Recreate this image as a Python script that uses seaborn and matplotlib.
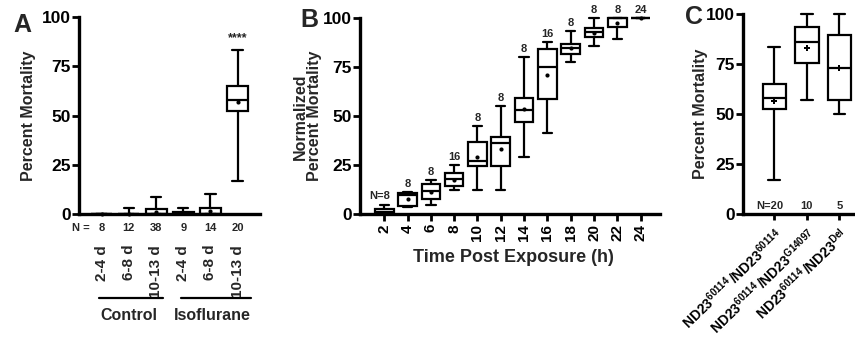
import numpy as np
import pandas as pd
import seaborn as sns
import matplotlib.pyplot as plt

# ---------------- data ----------------
# Panel A
a_groups = ['Control', 'Control', 'Control', 'Isoflurane', 'Isoflurane', 'Isoflurane']
a_ages = ['2-4 d', '6-8 d', '10-13 d', '2-4 d', '6-8 d', '10-13 d']
a_n = [8, 12, 38, 9, 14, 20]
a_min = [0, 0, 0, 0, 0, 17.0]
a_q1 = [0, 0, 0, 0, 0, 52.5]
a_med = [0, 0, 0, 0, 0, 58.0]
a_q3 = [0, 0.4, 2.5, 1.0, 3.2, 65.0]
a_max = [0, 3.3, 8.8, 3.4, 10.5, 83.3]
a_mean = [0, 0.3, 1.0, 0.5, 1.6, 56.8]

# Panel B
b_hours = ['2', '4', '6', '8', '10', '12', '14', '16', '18', '20', '22', '24']
b_n = [8, 8, 8, 16, 8, 8, 8, 16, 8, 8, 8, 24]
b_min = [0, 3.5, 4.6, 12.4, 12.5, 12.5, 29.4, 41.3, 77.9, 85.9, 89.5, 100]
b_q1 = [0, 4.2, 8.0, 14.5, 24.8, 24.5, 47.1, 59.0, 81.6, 90.3, 95.4, 100]
b_med = [1.2, 10.0, 12.0, 18.0, 27.2, 36.2, 53.1, 75.0, 85.0, 93.0, 100, 100]
b_q3 = [2.6, 10.7, 15.5, 20.9, 37.0, 39.6, 59.5, 84.2, 87.1, 94.9, 100, 100]
b_max = [5.0, 11.2, 17.5, 25.2, 45.0, 55.1, 80.1, 87.8, 93.5, 100, 100, 100]
b_mean = [0.8, 7.6, 11.3, 17.5, 29.4, 33.5, 53.7, 71.1, 84.7, 92.5, 97.8, 100]

# Panel C
c_labels = [r'$\mathbf{ND23^{60114}\,/ND23^{60114}}$',
            r'$\mathbf{ND23^{60114}\,/ND23^{G14097}}$',
            r'$\mathbf{ND23^{60114}\,/ND23^{Del}}$']
c_n = [20, 10, 5]
c_min = [17.0, 57.0, 50.3]
c_q1 = [52.5, 75.5, 57.0]
c_med = [58.0, 85.8, 73.0]
c_q3 = [65.0, 93.6, 89.7]
c_max = [83.3, 100, 100]
c_mean = [56.8, 83.2, 73.0]


def five_point(keys, mins, q1s, meds, q3s, maxs):
    rows = []
    for k, a, b, c, d, e in zip(keys, mins, q1s, meds, q3s, maxs):
        for v in (a, b, c, d, e):
            rows.append({'cat': k, 'value': v})
    return pd.DataFrame(rows)


# ---------------- style ----------------
sns.set_theme(style='ticks')
plt.rcParams['font.family'] = ['Liberation Sans', 'DejaVu Sans']
plt.rcParams['font.weight'] = 'bold'
plt.rcParams['axes.labelweight'] = 'bold'
plt.rcParams['mathtext.fontset'] = 'custom'
plt.rcParams['mathtext.rm'] = 'Liberation Sans'
plt.rcParams['mathtext.bf'] = 'Liberation Sans:bold'
plt.rcParams['mathtext.it'] = 'Liberation Sans:italic'

W, H = 855, 346
fig = plt.figure(figsize=(W / 100, H / 100), dpi=100)


def px_axes(x0, x1, ytop, ybot):
    return fig.add_axes([x0 / W, 1 - ybot / H, (x1 - x0) / W, (ybot - ytop) / H])


axA = px_axes(79, 260, 16.7, 214.3)
axB = px_axes(360, 660, 18.3, 214.3)
axC = px_axes(743, 855, 14.0, 214.3)

box_kw = dict(whis=(0, 100), color='white', linecolor='black', linewidth=1.6,
              fliersize=0)


def style_axis(ax):
    sns.despine(ax=ax)
    for s in ('left', 'bottom'):
        ax.spines[s].set_linewidth(2.4)
        ax.spines[s].set_color('black')
    ax.set_ylim(0, 100)
    ax.set_yticks([0, 25, 50, 75, 100])
    ax.tick_params(axis='y', length=5, width=2, labelsize=12.5, pad=1, colors='black')
    for lab in ax.get_yticklabels():
        lab.set_fontweight('bold')
    for art in ax.lines + ax.patches + ax.collections:
        art.set_clip_on(False)


# ---------------- Panel A ----------------
a_keys = [f'{g} {a}' for g, a in zip(a_groups, a_ages)]
dfA = five_point(a_keys, a_min, a_q1, a_med, a_q3, a_max)
sns.boxplot(data=dfA, x='cat', y='value', order=a_keys, width=0.77, ax=axA, **box_kw)
sns.stripplot(x=a_keys, y=a_mean, order=a_keys, jitter=False, color='black',
              size=3, ax=axA, zorder=5)
axA.set_xlim(-0.83, 5.82)
style_axis(axA)
axA.set_xticks(range(len(a_keys)))
axA.set_xticklabels(a_ages, rotation=90, fontsize=11, fontweight='bold')
axA.tick_params(axis='x', length=0, pad=22)
axA.set_xlabel('')
axA.set_ylabel('Percent Mortality', fontsize=11.5, fontweight='bold')
axA.yaxis.set_label_coords(-0.235, 0.5)
axA.text(-0.76, -6.8, 'N =', ha='center', va='center', fontsize=8, fontweight='bold')
for i, n in enumerate(a_n):
    axA.text(i, -6.8, str(n), ha='center', va='center', fontsize=8, fontweight='bold')
axA.text(5, 86, '****', ha='center', va='bottom', fontsize=9, fontweight='bold')
for (x0, x1), name in (((-0.1, 2.25), 'Control'), ((2.9, 5.5), 'Isoflurane')):
    axA.plot([x0, x1], [-42.2, -42.2], color='black', lw=1.6, clip_on=False)
axA.text(1.0, -51, 'Control', ha='center', va='center', fontsize=11.5, fontweight='bold')
axA.text(4.05, -51, 'Isoflurane', ha='center', va='center', fontsize=11.5, fontweight='bold')

# ---------------- Panel B ----------------
dfB = five_point(b_hours, b_min, b_q1, b_med, b_q3, b_max)
sns.boxplot(data=dfB, x='cat', y='value', order=b_hours, width=0.8, ax=axB, **box_kw)
sns.stripplot(x=b_hours, y=b_mean, order=b_hours, jitter=False, color='black',
              size=3, ax=axB, zorder=5)
axB.set_xlim(-1.04, 11.83)
style_axis(axB)
axB.set_xticks(range(len(b_hours)))
axB.set_xticklabels(b_hours, rotation=90, fontsize=11, fontweight='bold')
axB.tick_params(axis='x', length=5, width=2, pad=2, colors='black')
axB.set_xlabel('Time Post Exposure (h)', fontsize=13, fontweight='bold')
axB.xaxis.set_label_coords(0.51, -0.175)
axB.set_ylabel('Normalized\nPercent Mortality', fontsize=11.5, fontweight='bold',
               linespacing=1.0)
axB.yaxis.set_label_coords(-0.125, 0.5)
for i, (n, top) in enumerate(zip(b_n, b_max)):
    if i == 0:
        axB.text(i + 0.25, top + 4.2, f'N={n}', ha='right', va='center', fontsize=8,
                 fontweight='bold')
    else:
        axB.text(i, top + 4.2, str(n), ha='center', va='center', fontsize=8,
                 fontweight='bold')

# ---------------- Panel C ----------------
c_keys = ['a', 'b', 'c']
dfC = five_point(c_keys, c_min, c_q1, c_med, c_q3, c_max)
sns.boxplot(data=dfC, x='cat', y='value', order=c_keys, width=0.72, ax=axC, **box_kw)
sns.stripplot(x=c_keys, y=c_mean, order=c_keys, jitter=False, color='black',
              marker='P', size=4, ax=axC, zorder=5)
axC.set_xlim(-0.96, 2.48)
style_axis(axC)
axC.set_xticks(range(3))
axC.set_xticklabels(c_labels, rotation=44, ha='right', rotation_mode='anchor',
                    fontsize=10)
axC.tick_params(axis='x', length=4, width=2, pad=4, colors='black')
axC.set_xlabel('')
axC.set_ylabel('Percent Mortality', fontsize=11.5, fontweight='bold')
axC.yaxis.set_label_coords(-0.31, 0.5)
for i, n in enumerate(c_n):
    if i == 0:
        axC.text(i + 0.27, 1.5, f'N={n}', ha='right', va='bottom', fontsize=8,
                 fontweight='bold')
    else:
        axC.text(i, 1.5, str(n), ha='center', va='bottom', fontsize=8,
                 fontweight='bold')

# panel letters
fig.text(13 / W, 1 - 13 / H, 'A', ha='left', va='top', fontsize=18, fontweight='bold')
fig.text(300 / W, 1 - 8 / H, 'B', ha='left', va='top', fontsize=18, fontweight='bold')
fig.text(685 / W, 1 - 5 / H, 'C', ha='left', va='top', fontsize=18, fontweight='bold')

fig.savefig('out.png', dpi=100)
